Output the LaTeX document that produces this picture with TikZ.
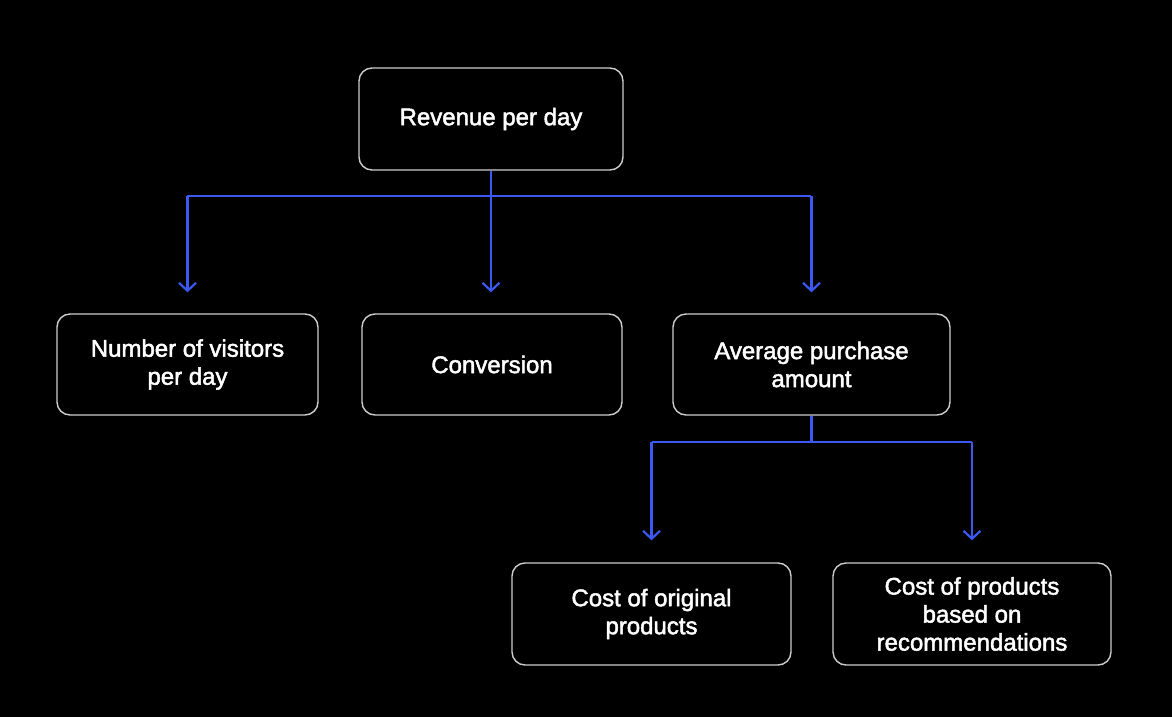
\documentclass[tikz,border=0pt]{standalone}
\usepackage{fontspec}
\setmainfont{Liberation Sans}[FakeBold=2]
\usetikzlibrary{arrows.meta}
\definecolor{linkblue}{RGB}{59,88,240}
\definecolor{boxborder}{RGB}{205,205,205}
\begin{document}
\begin{tikzpicture}[x=1pt,y=-1pt,
  box/.style={draw=boxborder,line width=1.4pt,rounded corners=13pt,fill=black,
    text=white,align=center,font=\fontsize{24}{28}\selectfont,inner sep=0pt},
  link/.style={draw=linkblue,line width=2.2pt},
  arr/.style={link,-{Straight Barb[length=8pt,width=17pt,line width=2.2pt]}}]
\fill[black] (0,0) rectangle (1172,717);
\useasboundingbox (0,0) rectangle (1172,717);
\node[box,minimum width=264pt,minimum height=102pt] (rev) at (491,119) {Revenue per day};
\node[box,minimum width=261pt,minimum height=101pt] (vis) at (187.5,364.5) {Number of visitors\\per day};
\node[box,minimum width=260pt,minimum height=101pt] (conv) at (492,364.5) {Conversion};
\node[box,minimum width=277pt,minimum height=101pt] (avg) at (811.5,364.5) {Average purchase\\amount};
\node[box,minimum width=279pt,minimum height=102pt] (orig) at (651.5,614) {Cost of original\\products};
\node[box,minimum width=278pt,minimum height=102pt] (rec) at (972,614) {Cost of products\\based on\\recommendations};
\coordinate (j1) at (491,196);
\coordinate (j2) at (811,442);
\draw[link] (rev.south -| j1) -- (j1);
\draw[link] (187,196) -- (811,196);
\draw[arr] (j1 -| vis) -- ([yshift=21pt]vis.north);
\draw[arr] (j1) -- ([yshift=21pt]conv.north -| j1);
\draw[arr] (j1 -| avg) -- ([yshift=21pt]avg.north);
\draw[link] (avg.south) -- (avg.south |- j2);
\draw[link] (j2 -| orig) -- (j2 -| rec);
\draw[arr] (j2 -| orig) -- ([yshift=22pt]orig.north);
\draw[arr] (j2 -| rec) -- ([yshift=22pt]rec.north);
\end{tikzpicture}
\end{document}
